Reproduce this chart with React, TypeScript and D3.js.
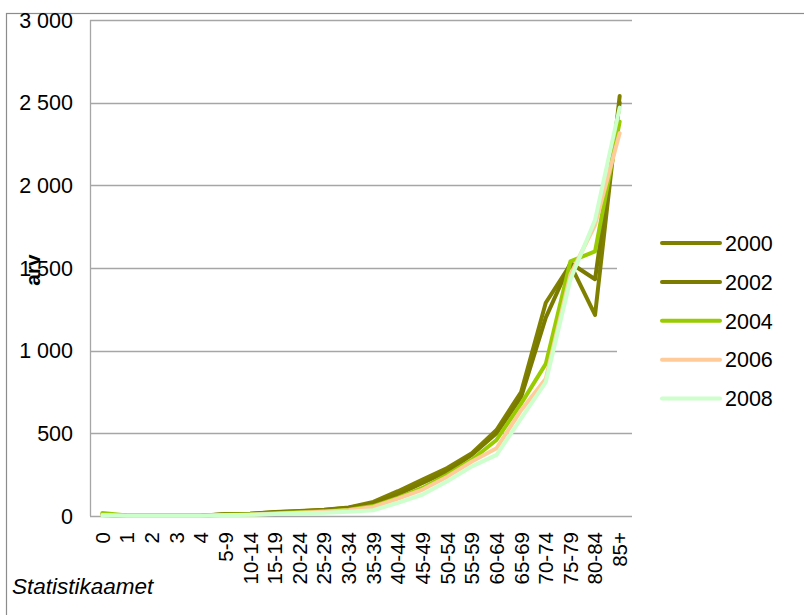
import React from "react";
import * as d3 from "d3";

const ageGroups = [
  "0", "1", "2", "3", "4", "5-9", "10-14", "15-19", "20-24", "25-29", "30-34",
  "35-39", "40-44", "45-49", "50-54", "55-59", "60-64", "65-69", "70-74",
  "75-79", "80-84", "85+",
];

const years = ["2000", "2002", "2004", "2006", "2008"];

const values2000 = [8, 2, 1, 1, 1, 12, 14, 24, 30, 38, 52, 85, 150, 220, 290, 380, 520, 750, 1290, 1520, 1216, 2540];
const values2002 = [6, 2, 1, 1, 1, 10, 13, 22, 28, 36, 50, 78, 130, 200, 270, 370, 500, 720, 1200, 1530, 1432, 2500];
const values2004 = [18, 3, 2, 1, 1, 8, 10, 16, 22, 28, 38, 60, 110, 170, 250, 340, 460, 680, 920, 1540, 1600, 2385];
const values2006 = [6, 2, 1, 1, 1, 6, 8, 14, 20, 26, 35, 55, 105, 160, 238, 330, 410, 640, 830, 1460, 1760, 2316];
const values2008 = [4, 1, 1, 1, 1, 5, 7, 12, 16, 20, 25, 35, 80, 130, 210, 300, 370, 590, 810, 1430, 1790, 2470];

const seriesValues = [values2000, values2002, values2004, values2006, values2008];
const seriesColors = ["#808000", "#7b7b00", "#99cc00", "#ffcc99", "#ccffcc"];

const yTicks = [0, 500, 1000, 1500, 2000, 2500, 3000];

const FONT = "'Liberation Sans', Arial, sans-serif";

export default function App() {
  const plot = { left: 90, right: 632, top: 20, bottom: 516 };

  const x = d3
    .scaleBand<string>()
    .domain(ageGroups)
    .range([plot.left, plot.right]);
  const y = d3.scaleLinear().domain([0, 3000]).range([plot.bottom, plot.top]);

  const cx = (c: string) => (x(c) ?? 0) + x.bandwidth() / 2;

  const line = d3
    .line<number>()
    .x((_, i) => cx(ageGroups[i]))
    .y((v) => y(v));

  const fmt = (v: number) => d3.format(",")(v).replace(/,/g, " ");

  const legend = { x: 662, y: 243, step: 38.9, len: 58 };

  return (
    <svg
      width={804}
      height={615}
      style={{ position: "absolute", left: 0, top: 0, background: "#fff" }}
      fontFamily={FONT}
    >
      <rect x={6.5} y={13.5} width={820} height={620} fill="#fff" stroke="#8c8c8c" strokeWidth={1.2} />

      {yTicks.map((t) => (
        <line
          key={t}
          x1={plot.left}
          x2={plot.right}
          y1={Math.round(y(t)) + 0.5}
          y2={Math.round(y(t)) + 0.5}
          stroke="#a6a6a6"
          strokeWidth={1.3}
        />
      ))}
      <line x1={plot.left + 0.5} x2={plot.left + 0.5} y1={plot.top} y2={plot.bottom} stroke="#a6a6a6" strokeWidth={1.3} />

      {yTicks.map((t) => (
        <text key={t} x={73} y={y(t)} dy="0.36em" textAnchor="end" fontSize={21.5} fill="#000">
          {fmt(t)}
        </text>
      ))}

      {ageGroups.map((c) => (
        <text
          key={c}
          transform={`translate(${cx(c)},532) rotate(-90)`}
          dy="0.36em"
          textAnchor="end"
          fontSize={20.5}
          fill="#000"
        >
          {c}
        </text>
      ))}

      <text
        transform="translate(32,270) rotate(-90)"
        dy="0.36em"
        textAnchor="middle"
        fontSize={21}
        fontWeight="bold"
        fill="#000"
      >
        arv
      </text>

      {seriesValues.map((vals, i) => (
        <path
          key={years[i]}
          d={line(vals) ?? ""}
          fill="none"
          stroke={seriesColors[i]}
          strokeWidth={4}
          strokeLinejoin="round"
          strokeLinecap="round"
        />
      ))}

      <rect x={617} y={222} width={180} height={196} fill="#fff" />
      {years.map((yr, i) => (
        <g key={yr}>
          <line
            x1={legend.x}
            x2={legend.x + legend.len}
            y1={legend.y + i * legend.step}
            y2={legend.y + i * legend.step}
            stroke={seriesColors[i]}
            strokeWidth={4}
            strokeLinecap="round"
          />
          <text x={725} y={legend.y + i * legend.step} dy="0.36em" fontSize={21.5} fill="#000">
            {yr}
          </text>
        </g>
      ))}

      <text x={12} y={594} fontSize={22.5} fontStyle="italic" fill="#000">
        Statistikaamet
      </text>
    </svg>
  );
}
